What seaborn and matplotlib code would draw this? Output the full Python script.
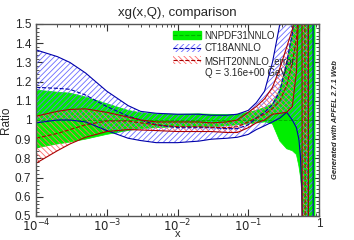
import numpy as np
import pandas as pd
import matplotlib
matplotlib.use("Agg")
import matplotlib.pyplot as plt
import seaborn as sns
from matplotlib.patches import Patch
from matplotlib.lines import Line2D

# x grid of the ratio curves
x = [1e-4, 2e-4, 3e-4, 5e-4, 1e-3, 2e-3, 3e-3, 5e-3, 1e-2, 2e-2, 3e-2, 5e-2,
     0.07, 0.1, 0.13, 0.17, 0.22, 0.28, 0.35, 0.42, 0.48, 0.52, 0.55, 0.57,
     0.59, 0.62, 0.66, 0.70, 0.72, 0.76, 0.80, 0.82, 0.84, 0.88]

# NNPDF31NNLO (reference set, central = 1)
nn_up = [1.156, 1.145, 1.14, 1.12, 1.085, 1.05, 1.038, 1.032, 1.03, 1.032, 1.03, 1.028,
         1.03, 1.04, 1.05, 1.065, 1.085, 1.16, 1.30, 1.45, 1.7, 2.0, 2.3, 2.6,
         3, 3, 3, 3, 3, 3, 3, 3, 3, 3]
nn_lo = [0.855, 0.875, 0.885, 0.90, 0.925, 0.945, 0.955, 0.96, 0.965, 0.965, 0.965, 0.97,
         0.975, 0.98, 0.985, 0.99, 0.98, 0.89, 0.85, 0.84, 0.82, 0.76, 0.70, 0.62,
         0.40, -1, -1, -1, -1, -1, -1, -1, -1, -1]
nn_c = [1.0] * len(x)

# CT18ANNLO
ct_up = [1.365, 1.33, 1.30, 1.245, 1.15, 1.075, 1.045, 1.035, 1.03, 1.03, 1.025, 1.025,
         1.03, 1.05, 1.09, 1.15, 1.30, 1.50, 1.8, 2.2, 2.6, 3, 3.5, 4,
         4, 4, 4, 4, 4, 4, 4, 4, -5, -5]
ct_lo = [0.985, 1.0, 1.0, 0.99, 0.945, 0.905, 0.893, 0.882, 0.882, 0.89, 0.90, 0.905,
         0.91, 0.925, 0.95, 0.97, 0.99, 1.01, 1.04, 1.0, 0.96, 0.90, 0.80, 0.65,
         0.3, -3, -4, -4, -4, -4, -4, -4, -4, -4]
ct_c = [1.17, 1.165, 1.16, 1.13, 1.07, 1.02, 1.0, 0.975, 0.96, 0.96, 0.96, 0.955,
        0.955, 0.975, 1.01, 1.04, 1.08, 1.15, 1.30, 1.45, 1.65, 1.9, 2.2, 2.5,
        3, 3.5, 4, 4, -4, -4, -4, -4, -4, -4]

# MSHT20NNLO_error
ms_up = [1.02, 1.045, 1.055, 1.058, 1.04, 1.015, 1.0, 0.99, 0.99, 0.99, 0.985, 0.99,
         1.0, 1.04, 1.07, 1.11, 1.17, 1.27, 1.38, 1.47, 1.58, 1.7, 2, 2.5,
         3, 3.5, 4, 4, -4, -4, -4, -4, -4, -4]
ms_lo = [0.775, 0.84, 0.875, 0.91, 0.94, 0.95, 0.948, 0.945, 0.94, 0.94, 0.94, 0.935,
         0.935, 0.96, 0.985, 1.0, 1.03, 1.035, 1.04, 1.07, 1.25, 1.6, 3, 4,
         -4, -4, -4, -4, -4, -4, -4, -4, -4, -4]
ms_c = [0.905, 0.93, 0.95, 0.975, 0.995, 0.995, 0.985, 0.975, 0.965, 0.965, 0.962, 0.96,
        0.965, 0.99, 1.01, 1.03, 1.06, 1.10, 1.18, 1.30, 1.42, 1.6, 2, 3,
        4, 4, -4, -4, -4, -4, -4, -4, -4, -4]

xticks = [1e-4, 1e-3, 1e-2, 1e-1, 1]
xticklabels = ["$10^{-4}$", "$10^{-3}$", "$10^{-2}$", "$10^{-1}$", "1"]
yticks = [0.5, 0.6, 0.7, 0.8, 0.9, 1.0, 1.1, 1.2, 1.3, 1.4, 1.5]
yticklabels = ["0.5", "0.6", "0.7", "0.8", "0.9", "1", "1.1", "1.2", "1.3", "1.4", "1.5"]

sns.set_theme(style="ticks")
plt.rcParams["font.family"] = ["Liberation Sans", "DejaVu Sans"]
plt.rcParams["hatch.linewidth"] = 0.6

green = "#00ee00"
green_d = "#00b000"
blue_h = "#6a6aff"
blue_d = "#0000aa"
red_h = "#ff6a6a"
red_d = "#aa0000"

df = pd.DataFrame({"x": x, "nn_c": nn_c, "nn_up": nn_up, "nn_lo": nn_lo,
                   "ct_c": ct_c, "ct_up": ct_up, "ct_lo": ct_lo,
                   "ms_c": ms_c, "ms_up": ms_up, "ms_lo": ms_lo})

fig = plt.figure(figsize=(3.54, 2.4), dpi=100)
ax = fig.add_axes([0.102, 0.1, 0.799, 0.8])

ax.fill_between(df["x"], df["nn_lo"], df["nn_up"], facecolor=green, edgecolor=green, lw=0.5)
ax.fill_between(df["x"], df["ct_lo"], df["ct_up"], facecolor="none", edgecolor=blue_h,
                hatch="//////", lw=0)
ax.fill_between(df["x"], df["ms_lo"], df["ms_up"], facecolor="none", edgecolor=red_h,
                hatch="\\\\\\\\\\\\", lw=0)

sns.lineplot(data=df, x="x", y="nn_c", ax=ax, color=green_d, lw=0.7, ls="--",
             estimator=None, sort=False)
for col in ["ct_up", "ct_lo"]:
    sns.lineplot(data=df, x="x", y=col, ax=ax, color=blue_d, lw=0.8,
                 estimator=None, sort=False)
sns.lineplot(data=df, x="x", y="ct_c", ax=ax, color=blue_d, lw=0.8, ls="--",
             estimator=None, sort=False)
for col in ["ms_up", "ms_lo"]:
    sns.lineplot(data=df, x="x", y=col, ax=ax, color=red_d, lw=0.8,
                 estimator=None, sort=False)
sns.lineplot(data=df, x="x", y="ms_c", ax=ax, color=red_d, lw=0.8, ls="--",
             estimator=None, sort=False)

ax.set_xscale("log")
ax.set_xlim(1e-4, 1)
ax.set_ylim(0.5, 1.5)
ax.set_xticks(xticks)
ax.set_xticklabels(xticklabels)
ax.set_yticks(yticks)
ax.set_yticklabels(yticklabels)
ax.yaxis.set_minor_locator(matplotlib.ticker.MultipleLocator(0.02))
ax.tick_params(which="both", direction="in", top=True, right=True, labelsize=8.5,
               color="#333333")
ax.tick_params(axis="x", pad=1.5)
ax.tick_params(axis="y", pad=3.5)
ax.tick_params(which="major", length=5, width=0.8)
ax.tick_params(which="minor", length=2.5, width=0.6)
for s in ax.spines.values():
    s.set_color("#555555")
    s.set_linewidth(1.0)

ax.set_xlabel("x", fontsize=8, va="baseline")
ax.xaxis.set_label_coords(0.5, -0.108)
ax.set_ylabel("Ratio", fontsize=8.5, labelpad=2)
ax.set_title("xg(x,Q), comparison", fontsize=9.5, pad=6)

handles = [
    (Patch(facecolor=green, edgecolor=green), Line2D([], [], color=green_d, ls="--", lw=0.8)),
    (Patch(facecolor="white", edgecolor=blue_h, hatch="//////", lw=0),
     Line2D([], [], color=blue_d, ls="--", lw=0.8)),
    (Patch(facecolor="white", edgecolor=red_h, hatch="\\\\\\\\\\\\", lw=0),
     Line2D([], [], color=red_d, ls="--", lw=0.8)),
    Line2D([], [], color="none"),
]
labels = ["NNPDF31NNLO", "CT18ANNLO", "MSHT20NNLO_error", "Q = 3.16e+00 GeV"]
ax.legend(handles, labels, loc="upper left", bbox_to_anchor=(0.465, 0.995),
          frameon=False, fontsize=7, handlelength=2.8, handleheight=0.9,
          labelspacing=0.25, handletextpad=0.4, borderaxespad=0.2)

fig.text(0.947, 0.5, "Generated with APFEL 2.7.1 Web", rotation=90, fontsize=5.5,
         style="italic", weight="bold", ha="center", va="center")

fig.savefig("out.png", dpi=100)
